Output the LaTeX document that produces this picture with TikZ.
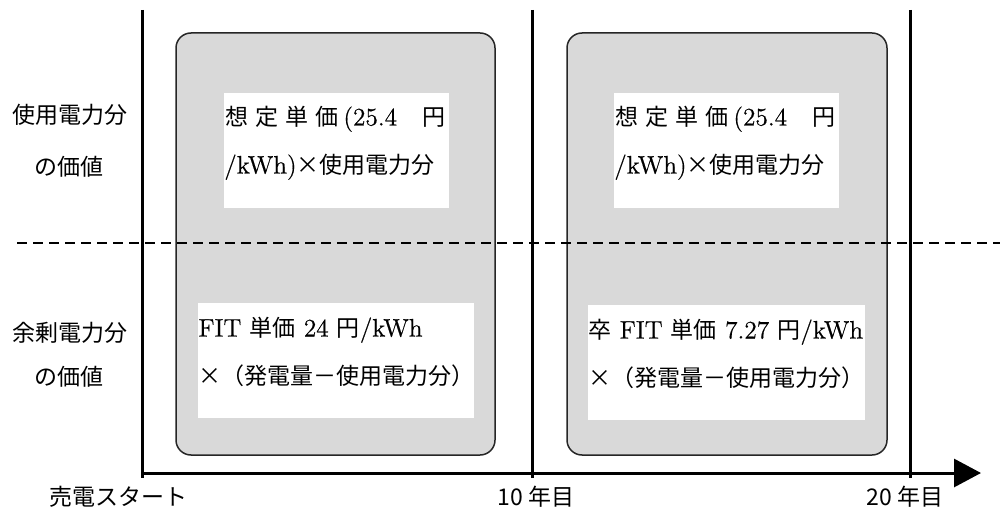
\documentclass[tikz,border=0pt]{standalone}
\usepackage{fontspec}
\setmainfont{Latin Modern Roman}[Scale=1.1,FakeBold=0.5]
\newfontfamily\cjk{Noto Sans CJK JP}
\usetikzlibrary{arrows.meta}
\newcommand{\J}[1]{{\cjk #1}}
\newcommand{\Xfw}{\makebox[11.5pt][l]{\cjk ×}}
\definecolor{boxgray}{HTML}{D9D9D9}
\begin{document}
\begin{tikzpicture}[x=0.5pt,y=-0.5pt,
  every node/.style={font=\fontsize{11.5}{14}\selectfont, inner sep=0pt},
  period/.style={draw=black!85, line width=0.75pt, fill=boxgray, rounded corners=7.5pt, minimum height=211pt},
  note/.style={fill=white, minimum height=57.5pt},
  txt/.style={anchor=west},
  lbl/.style={font=\fontsize{11.5}{14}\selectfont\cjk},
  vline/.style={line width=1.5pt},
  axisline/.style={line width=1.5pt, -{Triangle[length=13.5pt,width=14pt]}},
  divider/.style={line width=1pt, dash pattern=on 5pt off 3pt}]
\useasboundingbox (0,0) rectangle (1000,513);

% period boxes
\node[period, minimum width=159.5pt] (p1) at (335.5,244) {};
\node[period, minimum width=160pt] (p2) at (727,244) {};

% white notes
\node[note, minimum width=112.5pt] (n1) at (336.5,151) {};
\node[note, minimum width=112.5pt] (n2) at (726.5,151) {};
\node[note, minimum width=138pt] (n3) at (336,360.5) {};
\node[note, minimum width=138.5pt] (n4) at (726.5,362.5) {};

% note texts
\node[txt] (t1a) at (225,119) {\makebox[110pt][l]{\J{想}\hspace{3.5pt}\J{定}\hspace{3.5pt}\J{単}\hspace{3.5pt}\J{価}\hspace{2.5pt}(25.4\hfill\J{円}}};
\node[txt] (t1b) at (224,167) {/kWh)\J{×使用電力分}};
\node[txt] (t2a) at (615,119) {\makebox[110pt][l]{\J{想}\hspace{3.5pt}\J{定}\hspace{3.5pt}\J{単}\hspace{3.5pt}\J{価}\hspace{2.5pt}(25.4\hfill\J{円}}};
\node[txt] (t2b) at (614,167) {/kWh)\J{×使用電力分}};
\node[txt] (t3a) at (198,330) {FIT \J{単価} 24 \J{円}/kWh};
\node[txt] (t3b) at (198,376) {\Xfw\J{（発電量－使用電力分）}};
\node[txt] (t4a) at (588,332) {\J{卒} FIT \J{単価} 7.27 \J{円}/kWh};
\node[txt] (t4b) at (588,378) {\Xfw\J{（発電量－使用電力分）}};

% row labels
\node[lbl] (r1a) at (70,115) {使用電力分};
\node[lbl] (r1b) at (69,167) {の価値};
\node[lbl] (r2a) at (70,333) {余剰電力分};
\node[lbl] (r2b) at (69,377) {の価値};

% divider
\coordinate (d0) at (17,243);
\coordinate (d1) at (1000,243);
\draw[divider] (d0) -- (d1);

% vertical lines
\coordinate (v0t) at (142,10); \coordinate (v0b) at (142,478);
\coordinate (v1t) at (532,10); \coordinate (v1b) at (532,478);
\coordinate (v2t) at (910,10); \coordinate (v2b) at (910,478);
\draw[vline] (v0t) -- (v0b);
\draw[vline] (v1t) -- (v1b);
\draw[vline] (v2t) -- (v2b);

% axis
\coordinate (ax0) at (141,473);
\coordinate (ax1) at (981,473);
\draw[axisline] (ax0) -- (ax1);

% axis labels
\node[lbl] (s0) at (118,497) {売電スタート};
\node[lbl] (s1) at (536,497) {10 年目};
\node[lbl] (s2) at (905,497) {20 年目};
\end{tikzpicture}
\end{document}
